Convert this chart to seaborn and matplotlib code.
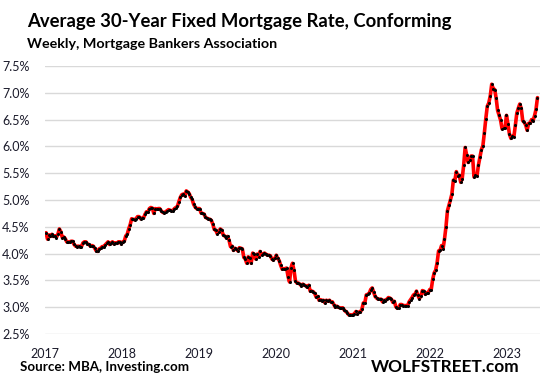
"""
Average 30-year fixed mortgage rate (conforming), weekly, MBA.
Red line with black weekly dots, Wolf Street style.
"""

import numpy as np
import pandas as pd
import matplotlib
matplotlib.use("Agg")
import matplotlib.pyplot as plt
import matplotlib.dates as mdates
from matplotlib.ticker import FuncFormatter, MultipleLocator
import seaborn as sns

# ── Data (weekly) ─────────────────────────────────────────────────────────────
FIRST_WEEK = "2017-01-06"

rates_2017 = [4.39, 4.27, 4.35, 4.32, 4.36, 4.32, 4.33, 4.30, 4.36, 4.46, 4.41,
              4.30, 4.31, 4.28, 4.22, 4.21, 4.22, 4.23, 4.23, 4.17, 4.14, 4.13,
              4.14, 4.13, 4.13, 4.20, 4.22, 4.22, 4.18, 4.17, 4.14, 4.15, 4.14,
              4.10, 4.05, 4.04, 4.09, 4.10, 4.13, 4.13, 4.16, 4.19, 4.22, 4.17,
              4.20, 4.22, 4.18, 4.20, 4.19, 4.22, 4.22, 4.18]
rates_2018 = [4.22, 4.23, 4.33, 4.36, 4.46, 4.54, 4.65, 4.64, 4.63, 4.65, 4.69,
              4.69, 4.65, 4.66, 4.66, 4.73, 4.78, 4.77, 4.84, 4.86, 4.85, 4.75,
              4.84, 4.83, 4.84, 4.84, 4.80, 4.77, 4.76, 4.78, 4.80, 4.82, 4.81,
              4.80, 4.80, 4.84, 4.86, 4.88, 4.97, 5.05, 5.10, 5.11, 5.08, 5.17,
              5.15, 5.12, 5.05, 5.01, 4.92, 4.87, 4.84, 4.84]
rates_2019 = [4.84, 4.76, 4.75, 4.74, 4.68, 4.66, 4.65, 4.64, 4.62, 4.55, 4.45,
              4.44, 4.37, 4.40, 4.46, 4.44, 4.35, 4.33, 4.30, 4.32, 4.25, 4.13,
              4.14, 4.06, 4.10, 4.08, 4.05, 4.11, 4.10, 4.09, 3.93, 3.90, 3.82,
              3.94, 3.91, 3.82, 4.01, 3.99, 3.90, 3.99, 3.94, 4.04, 3.98, 3.99,
              4.01, 3.99, 3.97, 3.97, 3.96, 3.90, 3.88, 3.91]
rates_2020 = [3.97, 3.91, 3.87, 3.78, 3.71, 3.71, 3.72, 3.73, 3.57, 3.47, 3.74,
              3.82, 3.69, 3.49, 3.45, 3.45, 3.43, 3.40, 3.43, 3.41, 3.40, 3.37,
              3.41, 3.30, 3.30, 3.29, 3.26, 3.19, 3.20, 3.13, 3.14, 3.12, 3.13,
              3.08, 3.13, 3.11, 3.13, 3.10, 3.10, 3.05, 3.00, 3.02, 3.00, 2.99,
              2.98, 2.99, 2.95, 2.92, 2.90, 2.86, 2.86, 2.85]
rates_2021 = [2.86, 2.88, 2.92, 2.87, 2.91, 2.91, 2.96, 3.08, 3.08, 3.23, 3.24,
              3.26, 3.33, 3.36, 3.28, 3.20, 3.17, 3.15, 3.15, 3.15, 3.10, 3.13,
              3.12, 3.15, 3.18, 3.17, 3.15, 3.09, 3.11, 3.01, 2.98, 2.99, 3.05,
              3.05, 3.03, 3.03, 3.03, 3.03, 3.10, 3.14, 3.18, 3.23, 3.24, 3.30,
              3.22, 3.16, 3.21, 3.31, 3.30, 3.24, 3.27, 3.27, 3.33]
rates_2022 = [3.33, 3.52, 3.64, 3.69, 3.83, 4.05, 4.06, 4.15, 4.09, 4.27, 4.50,
              4.80, 4.90, 5.00, 5.11, 5.37, 5.36, 5.53, 5.45, 5.46, 5.33, 5.40,
              5.65, 5.98, 5.84, 5.70, 5.74, 5.82, 5.82, 5.43, 5.47, 5.45, 5.65,
              5.80, 5.94, 6.01, 6.25, 6.52, 6.75, 6.81, 6.94, 7.16, 7.08, 7.06,
              6.90, 6.67, 6.58, 6.49, 6.33, 6.34, 6.35, 6.58]
rates_2023 = [6.42, 6.23, 6.15, 6.19, 6.18, 6.39, 6.62, 6.71, 6.79, 6.71, 6.48,
              6.45, 6.40, 6.30, 6.43, 6.43, 6.50, 6.48, 6.57, 6.69, 6.91]

TITLE    = "Average 30-Year Fixed Mortgage Rate, Conforming"
SUBTITLE = "Weekly, Mortgage Bankers Association"
SOURCE   = "Source: MBA, Investing.com"
BRAND    = "WOLFSTREET.com"

# ── Frame ──────────────────────────────────────────────────────────────────────
rates = (rates_2017 + rates_2018 + rates_2019 + rates_2020
         + rates_2021 + rates_2022 + rates_2023)
df = pd.DataFrame({
    "week": pd.date_range(FIRST_WEEK, periods=len(rates), freq="7D"),
    "rate": rates,
})

# ── Style ──────────────────────────────────────────────────────────────────────
sns.set_theme(style="white")
plt.rcParams["font.family"] = ["Lato", "DejaVu Sans"]

fig = plt.figure(figsize=(5.45, 3.85), dpi=100)
ax  = fig.add_axes([45 / 545, 1 - 334 / 385, 495 / 545, 268 / 385])

sns.lineplot(
    data=df, x="week", y="rate", ax=ax,
    color="#ff0000", linewidth=2.6,
    marker="o", markersize=2.2,
    markerfacecolor="black", markeredgecolor="black", markeredgewidth=0,
)

ax.set_ylim(2.5, 7.5)
ax.set_xlim(pd.Timestamp("2017-01-01"), pd.Timestamp("2023-06-07"))
ax.yaxis.set_major_locator(MultipleLocator(0.5))
ax.yaxis.set_major_formatter(FuncFormatter(lambda v, _: f"{v:.1f}%"))
ax.xaxis.set_major_locator(mdates.YearLocator())
ax.xaxis.set_major_formatter(mdates.DateFormatter("%Y"))

ax.grid(axis="y", color="#d9d9d9", linewidth=1.0)
ax.grid(axis="x", visible=False)
ax.set_axisbelow(True)
sns.despine(ax=ax, left=True, bottom=True)
ax.tick_params(axis="both", length=0, labelsize=9, colors="#1a1a2a")
ax.tick_params(axis="y", pad=11)
ax.tick_params(axis="x", pad=10)
ax.set_xlabel("")
ax.set_ylabel("")

# ── Text ───────────────────────────────────────────────────────────────────────
fig.text(27 / 545, 1 - 27 / 385, TITLE, fontsize=13.3, fontweight="bold",
         color="black", va="baseline")
fig.text(27 / 545, 1 - 48 / 385, SUBTITLE, fontsize=10.3, fontweight="bold",
         color="black", va="baseline")
fig.text(20 / 545, 1 - 367 / 385, SOURCE, fontsize=9.6, fontweight="bold",
         color="black", va="center")
fig.text(519 / 545, 1 - 367 / 385, BRAND, fontsize=12.4, fontweight="bold",
         color="black", va="center", ha="right")

fig.savefig("out.png", dpi=100)
plt.close(fig)
